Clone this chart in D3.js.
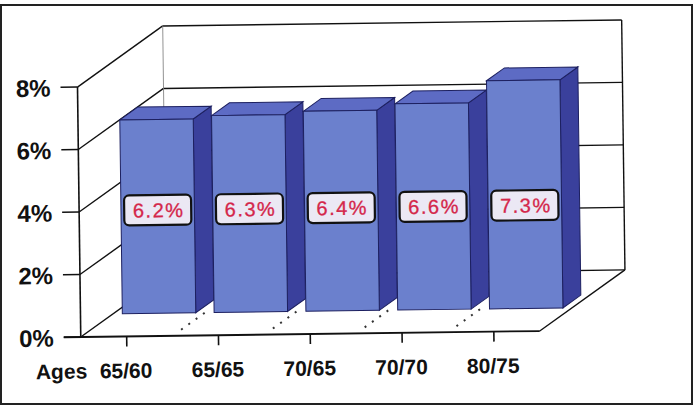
<!DOCTYPE html>
<html>
<head>
<meta charset="utf-8">
<script src="https://cdn.jsdelivr.net/npm/d3@7/dist/d3.min.js"></script>
<style>
body { margin: 0; background: #fff; }
svg { display: block; font-family: "Liberation Sans", Arial, sans-serif; }
</style>
</head>
<body>
<script>
// data
var categories = ["65/60", "65/65", "70/65", "70/70", "80/75"];
var values = [6.2, 6.3, 6.4, 6.6, 7.3];
var tickValues = [0, 2, 4, 6, 8];
var tickLabels = ["0%", "2%", "4%", "6%", "8%"];
var axisTitle = "Ages";

var W = 697, H = 408;
// oblique depth of the 3d box
var DX = 86, DY = -60;
var barFront = 0.38, barBack = 0.59;
var labelLevel = 3.3;

var svg = d3.select("body").append("svg").attr("width", W).attr("height", H);

// outer frame
svg.append("rect").attr("x", 1).attr("y", 5).attr("width", 691).attr("height", 399)
    .attr("fill", "#fff").attr("stroke", "#222").attr("stroke-width", 2);

// scanned page is slightly tilted
var g = svg.append("g").attr("transform", "rotate(-0.75,350,200)");

var x = d3.scaleBand().domain(categories).range([79, 538]).paddingInner(0.2).paddingOuter(0.1);
var y = d3.scaleLinear().domain([0, 8]).range([333.5, 83.5]);

var x0 = x.range()[0], x1 = x.range()[1];
var walls = g.append("g").attr("fill", "none").attr("stroke", "#111").attr("stroke-width", 1.4);

// back wall gridlines
tickValues.forEach(function(t) {
    walls.append("line").attr("x1", x0 + DX).attr("x2", x1 + DX)
        .attr("y1", y(t) + DY).attr("y2", y(t) + DY);
    // left wall diagonals
    walls.append("line").attr("x1", x0).attr("x2", x0 + DX)
        .attr("y1", y(t)).attr("y2", y(t) + DY);
});
// back wall verticals
walls.append("line").attr("x1", x0 + DX).attr("x2", x0 + DX)
    .attr("y1", y(0) + DY).attr("y2", y(8) + DY).attr("stroke", "#777").attr("stroke-width", 0.8);
walls.append("line").attr("x1", x1 + DX).attr("x2", x1 + DX)
    .attr("y1", y(0) + DY).attr("y2", y(8) + DY);
// floor
walls.append("line").attr("x1", x0 - 17).attr("x2", x1).attr("y1", y(0)).attr("y2", y(0)).attr("stroke-width", 1.8);
walls.append("line").attr("x1", x1).attr("x2", x1 + DX).attr("y1", y(0)).attr("y2", y(0) + DY);
// front left axis
walls.append("line").attr("x1", x0).attr("x2", x0).attr("y1", y(0)).attr("y2", y(8)).attr("stroke-width", 1.6);

// y ticks and labels
tickValues.forEach(function(t, i) {
    walls.append("line").attr("x1", x0 - 17).attr("x2", x0).attr("y1", y(t)).attr("y2", y(t)).attr("stroke-width", 1.6);
    g.append("text").attr("x", 52).attr("y", y(t)).attr("dy", "0.38em")
        .attr("text-anchor", "end").attr("font-size", 24).attr("font-weight", "bold")
        .attr("fill", "#111").text(tickLabels[i]);
});

// x ticks and labels
var step = x.step();
categories.forEach(function(c) {
    var cx = x(c) + x.bandwidth() / 2;
    walls.append("line").attr("x1", cx).attr("x2", cx).attr("y1", y(0)).attr("y2", y(0) + 10).attr("stroke-width", 1.6);
    g.append("text").attr("x", cx - 1).attr("y", 375).attr("text-anchor", "middle")
        .attr("font-size", 21).attr("font-weight", "bold").attr("fill", "#111").text(c);
});
g.append("text").attr("x", 85).attr("y", 375).attr("text-anchor", "end")
    .attr("font-size", 21).attr("font-weight", "bold").attr("fill", "#111").text(axisTitle);

// dotted floor division lines between bars
for (var k = 1; k < categories.length; k++) {
    var bx = x0 + step * k;
    g.append("line").attr("x1", bx + DX * 0.1).attr("y1", y(0) + DY * 0.1)
        .attr("x2", bx + DX * barFront).attr("y2", y(0) + DY * barFront)
        .attr("stroke", "#333").attr("stroke-width", 2).attr("stroke-dasharray", "2,7");
}

// bars
var bw = x.bandwidth();
var fdx = DX * barFront, fdy = DY * barFront;
var ddx = DX * (barBack - barFront), ddy = DY * (barBack - barFront);
var bars = g.append("g").selectAll("g").data(values).enter().append("g");

bars.each(function(v, i) {
    var b = d3.select(this);
    var xl = x(categories[i]) + fdx, xr = xl + bw;
    var yt = y(v) + fdy, yb = y(0) + fdy;
    b.append("polygon")
        .attr("points", [[xr, yt], [xr + ddx, yt + ddy], [xr + ddx, yb + ddy], [xr, yb]].join(" "))
        .attr("fill", "#3a409c").attr("stroke", "#1d2060").attr("stroke-width", 1);
    b.append("polygon")
        .attr("points", [[xl, yt], [xl + ddx, yt + ddy], [xr + ddx, yt + ddy], [xr, yt]].join(" "))
        .attr("fill", "#5d6bc4").attr("stroke", "#1d2060").attr("stroke-width", 1);
    b.append("rect").attr("x", xl).attr("y", yt).attr("width", bw).attr("height", yb - yt)
        .attr("fill", "#6b80cd").attr("stroke", "#1d2060").attr("stroke-width", 1);

    // value label
    var cx = xl + bw / 2, cy = y(labelLevel) + fdy;
    b.append("rect").attr("x", cx - 33.5).attr("y", cy - 15).attr("width", 67).attr("height", 30)
        .attr("rx", 5).attr("fill", "#ebe8f4").attr("stroke", "#111").attr("stroke-width", 2.2);
    b.append("text").attr("x", cx + 1).attr("y", cy).attr("dy", "0.36em")
        .attr("text-anchor", "middle").attr("font-size", 20).attr("letter-spacing", 1.5)
        .attr("fill", "#d4264a").attr("stroke", "#d4264a").attr("stroke-width", 0.3)
        .text(v.toFixed(1) + "%");
});
</script>
</body>
</html>
